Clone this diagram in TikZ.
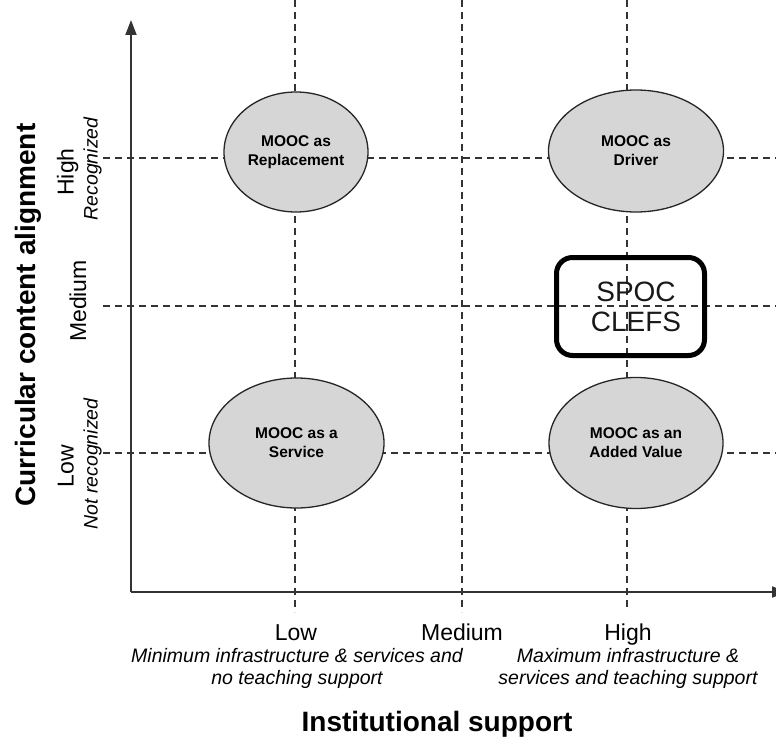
\documentclass[tikz,border=0pt]{standalone}
\usepackage{fontspec}
\setmainfont{Liberation Sans}
\usetikzlibrary{shapes.geometric,arrows.meta}
\begin{document}
\begin{tikzpicture}[x=1pt,y=-1pt,
  gridline/.style={dash pattern=on 7pt off 5pt, line width=1.2pt, draw=black!80},
  axisline/.style={line width=1.8pt, draw=black!80, -{Triangle[length=15pt,width=11pt]}},
  bubble/.style={ellipse, draw=black!85, line width=1.3pt, fill=black!16, inner sep=0pt, align=center, font=\fontsize{15.5}{19}\selectfont\bfseries},
  lvl/.style={font=\fontsize{23}{27}\selectfont, inner sep=0pt},
  note/.style={font=\fontsize{19.5}{22}\selectfont\itshape, align=center, inner sep=0pt},
  ttl/.style={font=\fontsize{28}{32}\selectfont\bfseries, inner sep=0pt},
  spocbox/.style={draw=black, line width=5pt, rounded corners=16pt, minimum width=148pt, minimum height=98pt, inner sep=0pt}]
\clip (0,0) rectangle (776,741);
\fill[white] (0,0) rectangle (776,741);
% grid coordinates
\coordinate (vlowT) at (295,0);   \coordinate (vlowB) at (295,612);
\coordinate (vmedT) at (462,0);   \coordinate (vmedB) at (462,612);
\coordinate (vhighT) at (627,0);  \coordinate (vhighB) at (627,611);
\coordinate (hhighL) at (103,158); \coordinate (hhighR) at (776,158);
\coordinate (hmedL) at (103,306);  \coordinate (hmedR) at (776,306);
\coordinate (hlowL) at (103,453);  \coordinate (hlowR) at (776,453);
\draw[gridline] (vlowT) -- (vlowB);
\draw[gridline] (vmedT) -- (vmedB);
\draw[gridline] (vhighT) -- (vhighB);
\draw[gridline] (hhighL) -- (hhighR);
\draw[gridline] (hmedL) -- (hmedR);
\draw[gridline] (hlowL) -- (hlowR);
% axes
\coordinate (origin) at (131,592);
\coordinate (ytip) at (131,20);
\coordinate (xtip) at (787,592);
\draw[axisline] (origin) -- (ytip);
\draw[axisline] (origin) -- (xtip);
% bubbles
\node[bubble, minimum width=144pt, minimum height=120pt] (repl) at (296,152) {MOOC as\\Replacement};
\node[bubble, minimum width=175pt, minimum height=122pt] (driver) at (636,151) {MOOC as\\Driver};
\node[bubble, minimum width=175pt, minimum height=130pt] (service) at (296.5,443) {MOOC as a\\Service};
\node[bubble, minimum width=174pt, minimum height=131pt] (added) at (636,443) {MOOC as an\\Added Value};
% SPOC box
\node[spocbox] (spoc) at (630.5,306.5) {};
\node[font=\fontsize{28}{30}\selectfont, align=center, inner sep=0pt, text=black!90] (spoctext) at (636,307) {SPOC\\CLEFS};
% left labels
\node[ttl, rotate=90, anchor=base] (ytitle) at (35,315) {Curricular content alignment};
\node[lvl, rotate=90, anchor=base] (lhigh) at (73.5,172) {High};
\node[note, rotate=90, anchor=base] (lrec) at (97.5,169) {Recognized};
\node[lvl, rotate=90, anchor=base] (lmed) at (86,301) {Medium};
\node[lvl, rotate=90, anchor=base] (llow) at (73.5,466) {Low};
\node[note, rotate=90, anchor=base] (lnotrec) at (97.5,464) {Not recognized};
% bottom labels
\node[lvl, anchor=base] (blow) at (296,640) {Low};
\node[lvl, anchor=base] (bmed) at (462,640) {Medium};
\node[lvl, anchor=base] (bhigh) at (628,640) {High};
\node[note, anchor=north] (bmin) at (297,648) {Minimum infrastructure \& services and\\no teaching support};
\node[note, anchor=north] (bmax) at (628,648) {Maximum infrastructure \&\\services and teaching support};
\node[ttl, anchor=base] (xtitle) at (437,731) {Institutional support};
\end{tikzpicture}
\end{document}
